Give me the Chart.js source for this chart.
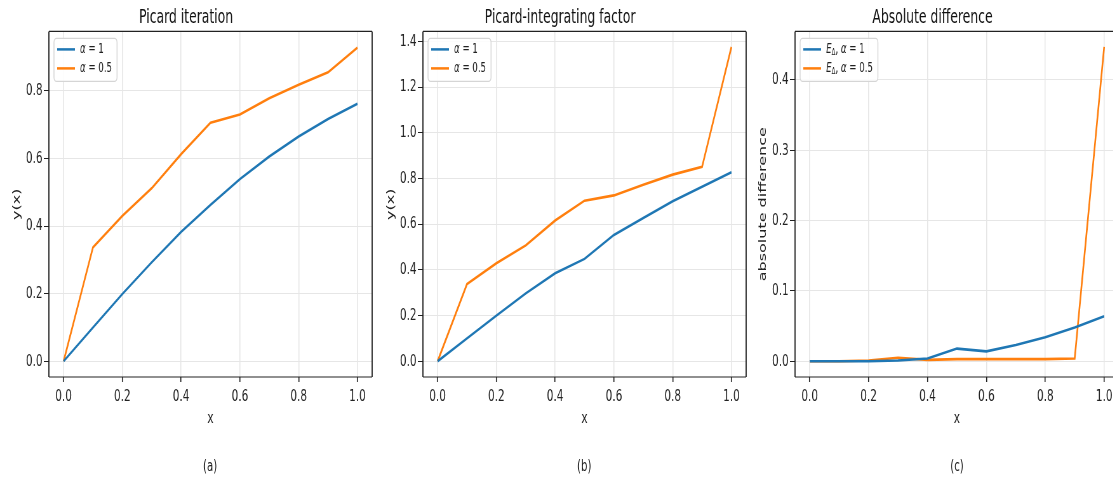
<!DOCTYPE html>
<html>
<head>
<meta charset="utf-8">
<script src="https://cdn.jsdelivr.net/npm/chart.js@4/dist/chart.umd.min.js"></script>
<style>
  body { margin: 0; width: 1113px; height: 479px; overflow: hidden; background: #fff; }
  /* the reference figure is squeezed horizontally, so draw wide and scale it down */
  #wrap { position: absolute; left: 0; top: 0; width: 1753px; height: 479px;
          transform: scaleX(0.635); transform-origin: 0 0; }
  .panel { position: absolute; top: 0; }
  .cap { position: absolute; top: 456px; width: 100px; margin-left: -50px; text-align: center;
         font: 16px "DejaVu Sans", sans-serif; color: #222; }
</style>
</head>
<body>
<div id="wrap">
  <div class="panel" style="left:0px"><canvas id="c1" width="596" height="432"></canvas></div>
  <div class="panel" style="left:589px"><canvas id="c2" width="596" height="432"></canvas></div>
  <div class="panel" style="left:1175px"><canvas id="c3" width="597" height="432"></canvas></div>
  <div class="cap" style="left:331px">(a)</div>
  <div class="cap" style="left:920px">(b)</div>
  <div class="cap" style="left:1507px">(c)</div>
</div>
<script>
const xs = [0, 0.1, 0.2, 0.3, 0.4, 0.5, 0.6, 0.7, 0.8, 0.9, 1.0];
const xTicks = [0, 0.2, 0.4, 0.6, 0.8, 1.0];

// (a) Picard iteration
const picardA1 = [0, 0.100, 0.199, 0.293, 0.383, 0.463, 0.539, 0.606, 0.665, 0.717, 0.762];
const picardA05 = [0, 0.337, 0.430, 0.512, 0.613, 0.706, 0.730, 0.778, 0.818, 0.855, 0.928];
const ticksA = [0, 0.2, 0.4, 0.6, 0.8];

// (b) Picard-integrating factor
const pifA1 = [0, 0.100, 0.200, 0.297, 0.385, 0.448, 0.553, 0.627, 0.700, 0.764, 0.827];
const pifA05 = [0, 0.338, 0.429, 0.507, 0.616, 0.703, 0.726, 0.773, 0.817, 0.851, 1.376];
const ticksB = [0, 0.2, 0.4, 0.6, 0.8, 1.0, 1.2, 1.4];

// (c) Absolute difference
const diffA1 = [0, 0, 0, 0.001, 0.004, 0.018, 0.014, 0.023, 0.034, 0.048, 0.064];
const diffA05 = [0, 0, 0.001, 0.005, 0.002, 0.003, 0.003, 0.003, 0.003, 0.004, 0.447];
const ticksC = [0, 0.1, 0.2, 0.3, 0.4];

const labelsAB = ['α = 1', 'α = 0.5'];
const labelsC = ['E_Δ, α = 1', 'E_Δ, α = 0.5'];

const BLUE = '#1f77b4', ORANGE = '#ff7f0e';
const FONT = '"DejaVu Sans", sans-serif';

// draws a label where α and E are italic and "_x" is a subscript
function richText(ctx, str, x, y, draw) {
  let cx = x;
  for (let i = 0; i < str.length; i++) {
    let ch = str[i], size = 13.5, dy = 0, italic = false;
    if (ch === '_') { ch = str[++i]; size = 9; dy = 3; }
    if (ch === 'α' || ch === 'E') italic = true;
    ctx.font = (italic ? 'italic ' : '') + size + 'px ' + FONT;
    if (draw) ctx.fillText(ch, cx, y + dy);
    cx += ctx.measureText(ch).width;
  }
  return cx - x;
}

const framePlugin = {
  id: 'framePlugin',
  afterDatasetsDraw(chart) {
    const { ctx, chartArea: a } = chart;
    ctx.save();
    ctx.strokeStyle = '#222';
    ctx.lineWidth = 1.2;
    ctx.beginPath();
    ctx.moveTo(a.left, a.top); ctx.lineTo(a.right, a.top);
    ctx.moveTo(a.left, a.bottom); ctx.lineTo(a.right, a.bottom);
    ctx.stroke();
    ctx.lineWidth = 1.8;
    ctx.beginPath();
    ctx.moveTo(a.left, a.top); ctx.lineTo(a.left, a.bottom);
    ctx.moveTo(a.right, a.top); ctx.lineTo(a.right, a.bottom);
    ctx.stroke();

    // legend box in the upper left corner
    const sets = chart.data.datasets;
    const x0 = a.left + 8, y0 = a.top + 7;
    const tw = Math.max(...sets.map(d => richText(ctx, d.label, 0, 0, false)));
    const w = 41 + tw + 8, h = 43;
    ctx.fillStyle = 'rgba(255,255,255,0.85)';
    ctx.strokeStyle = '#d5d5d5';
    ctx.lineWidth = 1.4;
    ctx.beginPath();
    ctx.roundRect(x0, y0, w, h, 4);
    ctx.fill();
    ctx.stroke();
    sets.forEach((d, i) => {
      const y = y0 + 11 + i * 19;
      ctx.strokeStyle = d.borderColor;
      ctx.lineWidth = 2.5;
      ctx.beginPath();
      ctx.moveTo(x0 + 5, y); ctx.lineTo(x0 + 33, y);
      ctx.stroke();
      ctx.fillStyle = '#222';
      ctx.textBaseline = 'middle';
      richText(ctx, d.label, x0 + 41, y, true);
    });
    ctx.restore();
  }
};

function makeChart(id, title, yTitle, labels, s1, s2, yMin, yMax, yTicks) {
  new Chart(document.getElementById(id), {
    type: 'line',
    data: {
      datasets: [
        { label: labels[0], data: xs.map((x, i) => ({ x, y: s1[i] })), borderColor: BLUE },
        { label: labels[1], data: xs.map((x, i) => ({ x, y: s2[i] })), borderColor: ORANGE }
      ]
    },
    options: {
      responsive: false,
      animation: false,
      devicePixelRatio: 1,
      layout: { padding: { left: 0, right: 10, top: 0, bottom: 0 } },
      elements: {
        line: { borderWidth: 2.6, tension: 0 },
        point: { radius: 0 }
      },
      plugins: {
        legend: { display: false },
        tooltip: { enabled: false },
        title: {
          display: true, text: title, color: '#111',
          font: { family: FONT, size: 19.5, weight: 'normal' },
          padding: { top: 6, bottom: 2 }
        }
      },
      scales: {
        x: {
          type: 'linear', min: -0.05, max: 1.05,
          afterBuildTicks: s => { s.ticks = xTicks.map(v => ({ value: v })); },
          afterFit: s => { s.height = 55; },
          grid: { color: '#e6e6e6', lineWidth: 1.5, tickColor: '#222', tickLength: 5, tickWidth: 1.6 },
          border: { display: false },
          ticks: { color: '#222', padding: 5, autoSkip: false, maxRotation: 0,
                   font: { family: FONT, size: 16.5 }, callback: v => v.toFixed(1) },
          title: { display: true, text: 'x', color: '#222',
                   font: { family: FONT, size: 16.5 }, padding: { top: 0, bottom: 3 } }
        },
        y: {
          type: 'linear', min: yMin, max: yMax,
          afterBuildTicks: s => { s.ticks = yTicks.map(v => ({ value: v })); },
          afterFit: s => { s.width = 77; },
          grid: { color: '#e6e6e6', lineWidth: 1, tickColor: '#222', tickLength: 8 },
          border: { display: false },
          ticks: { color: '#222', padding: 2,
                   font: { family: FONT, size: 16.5 }, callback: v => v.toFixed(1) },
          title: { display: true, text: yTitle, color: '#222',
                   font: { family: FONT, size: 16 }, padding: { top: 17, bottom: 0 } }
        }
      }
    },
    plugins: [framePlugin]
  });
}

makeChart('c1', 'Picard iteration', 'y(x)', labelsAB, picardA1, picardA05, -0.0465, 0.976, ticksA);
makeChart('c2', 'Picard-integrating factor', 'y(x)', labelsAB, pifA1, pifA05, -0.069, 1.444, ticksB);
makeChart('c3', 'Absolute difference', 'absolute difference', labelsC, diffA1, diffA05, -0.0224, 0.469, ticksC);
</script>
</body>
</html>
